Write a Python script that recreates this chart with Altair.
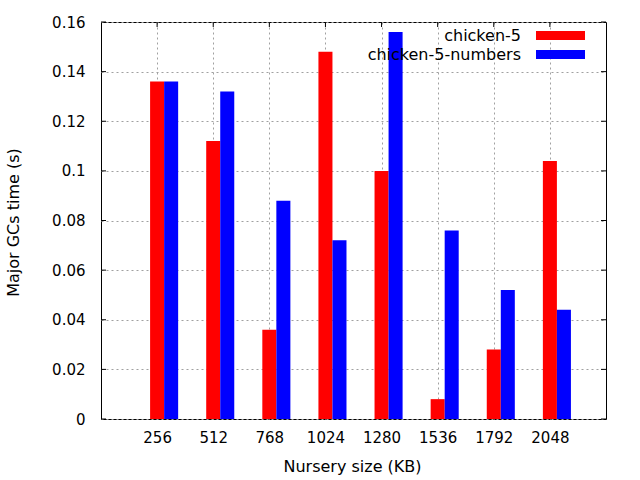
import altair as alt
import pandas as pd

# ---- data ----
sizes = [256, 512, 768, 1024, 1280, 1536, 1792, 2048]
chicken5 = [0.136, 0.112, 0.036, 0.148, 0.100, 0.008, 0.028, 0.104]
chicken5_numbers = [0.136, 0.132, 0.088, 0.072, 0.156, 0.076, 0.052, 0.044]
series_names = ["chicken-5", "chicken-5-numbers"]
series_colors = ["#ff0000", "#0000ff"]
y_ticks = [0, 0.02, 0.04, 0.06, 0.08, 0.1, 0.12, 0.14, 0.16]

rows = []
for i, s in enumerate(sizes):
    rows.append({"size": s, "series": series_names[0], "idx": 0, "value": chicken5[i]})
    rows.append({"size": s, "series": series_names[1], "idx": 1, "value": chicken5_numbers[i]})
df = pd.DataFrame(rows)

W, H = 505, 397
FONT = "DejaVu Sans"
FS = 15
FS_TITLE = 16

xscale = alt.Scale(domain=[0, 2304], nice=False, zero=False, padding=0)
yscale = alt.Scale(domain=[0, 0.16], nice=False, zero=True, padding=0)

xaxis = alt.Axis(values=sizes, format="d", grid=True, title="Nursery size (KB)",
                 labelPadding=11, titleY=52, titleX=251, titleBaseline="alphabetic")
yaxis = alt.Axis(values=y_ticks, format="~g", grid=True, title="Major GCs time (s)",
                 labelPadding=16, titleX=-83, titleY=200, titleAngle=-90,
                 titleBaseline="alphabetic", titleAlign="center")

bars = alt.Chart(df).transform_calculate(
    x0="datum.size - 32 + 64 * datum.idx",
    x1="datum.size + 32 + 64 * datum.idx",
    base="0",
).mark_bar().encode(
    x=alt.X("x0:Q", scale=xscale, axis=xaxis),
    x2="x1:Q",
    y=alt.Y("value:Q", scale=yscale, axis=yaxis),
    y2="base:Q",
    color=alt.Color("series:N", scale=alt.Scale(domain=series_names, range=series_colors), legend=None),
)

ydf = pd.DataFrame({"x0": [0] * len(y_ticks), "value": y_ticks})
xdf = pd.DataFrame({"x0": sizes, "value": [0] * len(sizes)})

def yticks(x1, x2):
    return alt.Chart(ydf).mark_rule(color="black", strokeWidth=1).encode(
        y=alt.Y("value:Q", scale=yscale, axis=yaxis),
        x=alt.value(x1), x2=alt.value(x2))

def xticks(y1, y2):
    return alt.Chart(xdf).mark_rule(color="black", strokeWidth=1).encode(
        x=alt.X("x0:Q", scale=xscale, axis=xaxis),
        y=alt.value(y1), y2=alt.value(y2))

ticks = [yticks(0, 5), yticks(W, W - 5), xticks(H, H - 5), xticks(0, 5)]

legend_layers = []
for k, (name, col) in enumerate(zip(series_names, series_colors)):
    ldf = pd.DataFrame({"series": [name]})
    legend_layers.append(
        alt.Chart(ldf).mark_text(align="right", baseline="alphabetic", font=FONT,
                                 fontSize=FS_TITLE, color="black").encode(
            text="series:N", x=alt.value(420), y=alt.value(18.5 + 19 * k)))
    legend_layers.append(
        alt.Chart(ldf).mark_rect(color=col).encode(
            x=alt.value(435), x2=alt.value(484),
            y=alt.value(9 + 19 * k), y2=alt.value(18 + 19 * k)))

chart = alt.layer(*ticks, bars, *legend_layers).properties(
    width=W, height=H,
    padding={"left": 101, "top": 22, "right": 34, "bottom": 61},
    autosize=alt.AutoSizeParams(type="none"),
    background="white",
).configure_view(
    stroke="black", strokeWidth=1
).configure_axis(
    labelFont=FONT, labelFontSize=FS, labelColor="black",
    titleFont=FONT, titleFontSize=FS_TITLE, titleFontWeight="normal", titleColor="black",
    domain=False, ticks=False,
    gridColor="#a0a0a0", gridDash=[2, 3], gridWidth=1, gridOpacity=1,
)

chart.save("out.html", embed_options={"renderer": "svg", "actions": False})
